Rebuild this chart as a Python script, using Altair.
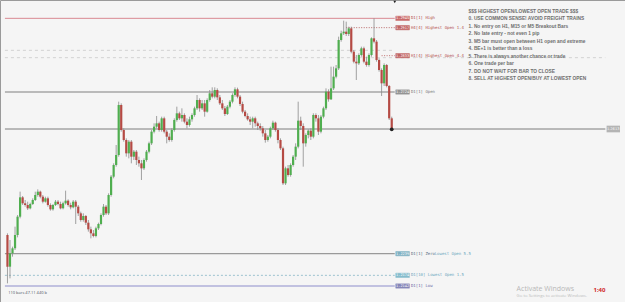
import altair as alt
import pandas as pd

# ---------------- data (price points) ----------------
opens = [295, 200, 240, 255, 295, 350, 408, 390, 385, 375, 388, 400, 415, 425, 410, 395, 405, 385, 372, 385,
         395, 388, 375, 390, 398, 385, 378, 395, 380, 360, 340, 352, 332, 312, 300, 292, 315, 328, 355, 380,
         360, 415, 470, 505, 535, 685, 610, 580, 540, 575, 530, 545, 520, 510, 495, 520, 545, 570, 605, 620,
         630, 610, 645, 605, 590, 580, 610, 640, 660, 645, 655, 635, 625, 642, 655, 675, 700, 675, 690, 665,
         700, 720, 710, 730, 708, 690, 675, 658, 680, 695, 715, 732, 710, 688, 665, 652, 642, 635, 645, 630,
         622, 615, 600, 580, 590, 615, 632, 610, 580, 555, 450, 495, 475, 505, 530, 560, 638, 622, 570, 595,
         608, 590, 655, 645, 605, 650, 675, 725, 702, 735, 770, 795, 880, 900, 905, 898, 915, 845, 815, 810,
         835, 855, 815, 805, 835, 885, 875, 820, 790, 750, 805, 742, 645]
highs = [300, 280, 260, 320, 355, 425, 412, 400, 395, 392, 405, 425, 432, 428, 415, 410, 410, 390, 388, 400,
         400, 395, 395, 428, 402, 392, 400, 400, 385, 365, 360, 355, 340, 320, 310, 320, 332, 360, 388, 385,
         420, 475, 510, 565, 695, 690, 615, 585, 580, 580, 550, 550, 530, 520, 525, 550, 575, 610, 630, 652,
         635, 650, 650, 610, 600, 615, 645, 680, 665, 675, 660, 645, 650, 660, 680, 715, 705, 700, 700, 705,
         730, 738, 738, 735, 715, 700, 682, 685, 700, 720, 738, 737, 715, 695, 670, 660, 650, 650, 650, 635,
         630, 622, 610, 595, 620, 638, 635, 615, 585, 560, 500, 505, 510, 535, 570, 695, 650, 630, 600, 612,
         615, 660, 660, 655, 655, 680, 735, 732, 800, 800, 805, 890, 908, 938, 935, 920, 920, 850, 835, 840,
         860, 860, 830, 840, 888, 945, 880, 825, 795, 810, 808, 745, 650]
lows = [150, 165, 230, 250, 288, 345, 385, 380, 370, 372, 385, 397, 410, 405, 390, 392, 380, 368, 368, 382,
        384, 372, 372, 386, 380, 372, 375, 328, 352, 335, 335, 325, 305, 285, 288, 288, 310, 324, 350, 355,
        355, 410, 465, 500, 530, 605, 575, 530, 525, 510, 520, 505, 500, 460, 490, 515, 540, 565, 600, 615,
        605, 605, 600, 570, 575, 575, 605, 635, 640, 635, 630, 615, 620, 635, 650, 670, 665, 670, 650, 662,
        695, 705, 705, 700, 685, 670, 652, 655, 675, 690, 710, 705, 682, 660, 648, 638, 625, 615, 620, 610,
        608, 590, 572, 575, 585, 610, 605, 570, 550, 445, 445, 470, 470, 500, 520, 555, 610, 500, 560, 585,
        580, 585, 635, 595, 600, 645, 670, 695, 700, 730, 765, 790, 875, 895, 892, 892, 840, 810, 760, 805,
        830, 810, 800, 800, 830, 870, 815, 785, 712, 742, 738, 640, 610]
closes = [200, 240, 255, 295, 350, 408, 390, 385, 375, 388, 400, 415, 425, 410, 395, 405, 385, 372, 385, 395,
          388, 375, 390, 398, 385, 378, 395, 380, 360, 340, 352, 332, 312, 300, 292, 315, 328, 355, 380, 360,
          415, 470, 505, 535, 685, 610, 580, 540, 575, 530, 545, 520, 510, 495, 520, 545, 570, 605, 620, 630,
          610, 645, 605, 590, 580, 610, 640, 660, 645, 655, 635, 625, 642, 655, 675, 700, 675, 690, 665, 700,
          720, 710, 730, 708, 690, 675, 658, 680, 695, 715, 732, 710, 688, 665, 652, 642, 635, 645, 630, 622,
          615, 600, 580, 590, 615, 632, 610, 580, 555, 450, 495, 475, 505, 530, 560, 638, 622, 570, 595, 608,
          590, 655, 645, 605, 650, 675, 725, 702, 735, 770, 795, 880, 900, 905, 898, 915, 845, 815, 810, 835,
          855, 815, 805, 835, 885, 875, 820, 790, 750, 805, 742, 645, 615]

level_names = ["D1[1] High", "H4[4] Highest Open 1.4", "H1[4] Highest Open 4.4", "D1[1] Open",
               "D1[1] Zero", "D1[10] Lowest Open 1.5", "D1[1] Low"]
level_prices = [945, 917, 833, 724, 239, 174, 142]
zero_tail = "Lowest Open 5.5"
current_price = 613
faint_levels = [849, 827]

rules_text = [
    "$$$ HIGHEST OPEN/LOWEST OPEN TRADE $$$",
    "0. USE COMMON SENSE! AVOID FREIGHT TRAINS",
    "1. No entry on H1, M15 or M5 Breakout Bars",
    "2. No late entry - not even 1 pip",
    "3. M5 bar must open between H1 open and extreme",
    "4. BE+1 is better than a loss",
    "5. There is always another chance or trade",
    "6. One trade per bar",
    "7. DO NOT WAIT FOR BAR TO CLOSE",
    "8. SELL AT HIGHEST OPEN/BUY AT LOWEST OPEN",
]

# ---------------- layout helpers ----------------
xs = alt.Scale(domain=[-0.973, 242.3], nice=False, zero=False)
ys = alt.Scale(domain=[94, 1000], nice=False, zero=False)


def X(f):
    return alt.X(f, scale=xs, axis=None)


def Y(f):
    return alt.Y(f, scale=ys, axis=None)


def fmt(p):
    return "1.%04d" % (2000 + p)


N = len(opens)
df = pd.DataFrame({"i": list(range(N)), "open": opens, "high": highs, "low": lows, "close": closes})
df["dir"] = ["up" if c > o else "down" for o, c in zip(opens, closes)]

GREEN = "#4fae4f"
RED = "#b54a44"

layers = []

# faint dashed levels
for p, x1 in zip(faint_levels, [153.2, 236.5]):
    d = pd.DataFrame({"p": [p], "a": [-1.0], "b": [x1]})
    layers.append(alt.Chart(d).mark_rule(color="#d2d2d2", strokeWidth=1, strokeDash=[3, 3])
                  .encode(x=X("a:Q"), x2="b:Q", y=Y("p:Q")))

# level lines
line_style = [
    ("#d98a92", 1.0, None, -1.0),
    ("#b86868", 1.0, [1, 1.5], 134.0),
    ("#c07070", 1.0, [1, 1.5], 148.0),
    ("#a6a6a6", 1.6, None, -1.0),
    ("#9a9a9a", 1.2, None, -1.0),
    ("#9cc2cf", 1.0, [2, 2], -1.0),
    ("#8e8ecb", 1.2, None, -1.0),
]
for p, (col, w, dash, x0) in zip(level_prices, line_style):
    d = pd.DataFrame({"p": [p], "a": [x0], "b": [153.2]})
    kw = dict(color=col, strokeWidth=w)
    if dash:
        kw["strokeDash"] = dash
    layers.append(alt.Chart(d).mark_rule(**kw).encode(x=X("a:Q"), x2="b:Q", y=Y("p:Q")))

# current price line
dcur = pd.DataFrame({"p": [current_price], "a": [-1.0], "b": [236.5]})
layers.append(alt.Chart(dcur).mark_rule(color="#7c7c7c", strokeWidth=1)
              .encode(x=X("a:Q"), x2="b:Q", y=Y("p:Q")))

# candles
wick = alt.Chart(df).mark_rule(color="#8a8a8a", strokeWidth=0.8).encode(
    x=X("i:Q"),
    y=alt.Y("low:Q", scale=ys,
            axis=alt.Axis(orient="right", offset=-14, grid=False, title=None,
                          domainColor="#d4d4d4", tickColor="#d0d0d0", tickSize=2,
                          labelColor="#c6c6c6", labelFontSize=4, labelPadding=1,
                          tickCount=14, labelFont="DejaVu Sans",
                          labelExpr="format(1.2 + datum.value/10000, '.4f')")),
    y2="high:Q")
body = alt.Chart(df).mark_bar(size=2.2).encode(
    x=X("i:Q"), y=Y("open:Q"), y2="close:Q",
    color=alt.Color("dir:N", scale=alt.Scale(domain=["up", "down"], range=[GREEN, RED]), legend=None))
layers += [wick, body]

# last price dot + top marker
layers.append(alt.Chart(pd.DataFrame({"i": [N - 1], "p": [closes[-1] - 3]}))
              .mark_point(shape="circle", filled=True, size=14, color="#222", opacity=1)
              .encode(x=X("i:Q"), y=Y("p:Q")))
layers.append(alt.Chart(pd.DataFrame({"i": [153.2], "p": [994]}))
              .mark_point(shape="triangle-down", filled=True, size=8, color="#222", opacity=1)
              .encode(x=X("i:Q"), y=Y("p:Q")))

# level label boxes + texts
box_fill = ["#c96a6a", "#c06464", "#c06464", "#959595", "#7fb0c2", "#86bccc", "#8686b8"]
txt_col = ["#b24c4c", "#b24c4c", "#b24c4c", "#7a7a7a", "#5a6e80", "#6aa6bd", "#6a6aa6"]
for p, name, bf, tc in zip(level_prices, level_names, box_fill, txt_col):
    d = pd.DataFrame({"p": [p], "a": [153.6], "b": [159.0], "t": [fmt(p)], "n": [name], "tx": [156.3], "nx": [159.6]})
    base = alt.Chart(d).transform_calculate(lo="datum.p - 6.5", hi="datum.p + 6.5")
    layers.append(base.mark_rect(fill=bf, stroke=bf, strokeWidth=0.5)
                  .encode(x=X("a:Q"), x2="b:Q", y=Y("lo:Q"), y2="hi:Q"))
    layers.append(alt.Chart(d).mark_text(fontSize=3.6, color="#ffffff", font="DejaVu Sans Mono",
                                         align="center", baseline="middle")
                  .encode(x=X("tx:Q"), y=Y("p:Q"), text="t:N"))
    layers.append(alt.Chart(d).mark_text(fontSize=4, color=tc, font="DejaVu Sans Mono",
                                         align="left", baseline="middle")
                  .encode(x=X("nx:Q"), y=Y("p:Q"), text="n:N"))

# continuation of the "Zero" label
dz = pd.DataFrame({"p": [level_prices[4]], "nx": [169.0], "n": [zero_tail]})
layers.append(alt.Chart(dz).mark_text(fontSize=4, color="#6aa6bd", font="DejaVu Sans Mono",
                                      align="left", baseline="middle")
              .encode(x=X("nx:Q"), y=Y("p:Q"), text="n:N"))

# current price box on the price scale
dcb = pd.DataFrame({"p": [current_price], "a": [237.0], "b": [242.3], "t": [fmt(current_price)], "tx": [239.6]})
layers.append(alt.Chart(dcb).transform_calculate(lo="datum.p - 10", hi="datum.p + 10")
              .mark_rect(fill="#b4b4b4").encode(x=X("a:Q"), x2="b:Q", y=Y("lo:Q"), y2="hi:Q"))
layers.append(alt.Chart(dcb).mark_text(fontSize=3.6, color="#f4f4f4", font="DejaVu Sans")
              .encode(x=X("tx:Q"), y=Y("p:Q"), text="t:N"))

# rules text block
drt = pd.DataFrame({"k": list(range(len(rules_text))), "t": rules_text})
layers.append(alt.Chart(drt).transform_calculate(p="965 - 22.6 * datum.k", x="182.4")
              .mark_text(fontSize=4.8, fontWeight="bold", color="#6e6e6e", font="Liberation Sans",
                         align="left", baseline="middle")
              .encode(x=X("x:Q"), y=Y("p:Q"), text="t:N"))

# bottom texts
foot = pd.DataFrame({
    "t": ["110 bars 47.11 440 b", "Activate Windows", "Go to Settings to activate Windows.", "1:40"],
    "x": [0.3, 201.4, 201.4, 231.8],
    "p": [121, 134, 112, 129],
    "s": [4.0, 7.0, 4.3, 6.0],
    "c": ["#4a5060", "#b8b8b8", "#bdbdbd", "#d02a2a"],
    "w": ["normal", "normal", "normal", "bold"],
})
for _, r in foot.iterrows():
    d = pd.DataFrame([r])
    layers.append(alt.Chart(d).mark_text(fontSize=float(r["s"]), color=r["c"], fontWeight=r["w"],
                                         font="Open Sans", align="left", baseline="middle")
                  .encode(x=X("x:Q"), y=Y("p:Q"), text="t:N"))

chart = alt.layer(*layers).properties(
    width=625, height=302, background="#f5f5f5", padding=0, autosize="none"
).configure_view(stroke="#9a9a9a", strokeWidth=1)

chart.save("out.html", embed_options={"renderer": "svg", "actions": False})
